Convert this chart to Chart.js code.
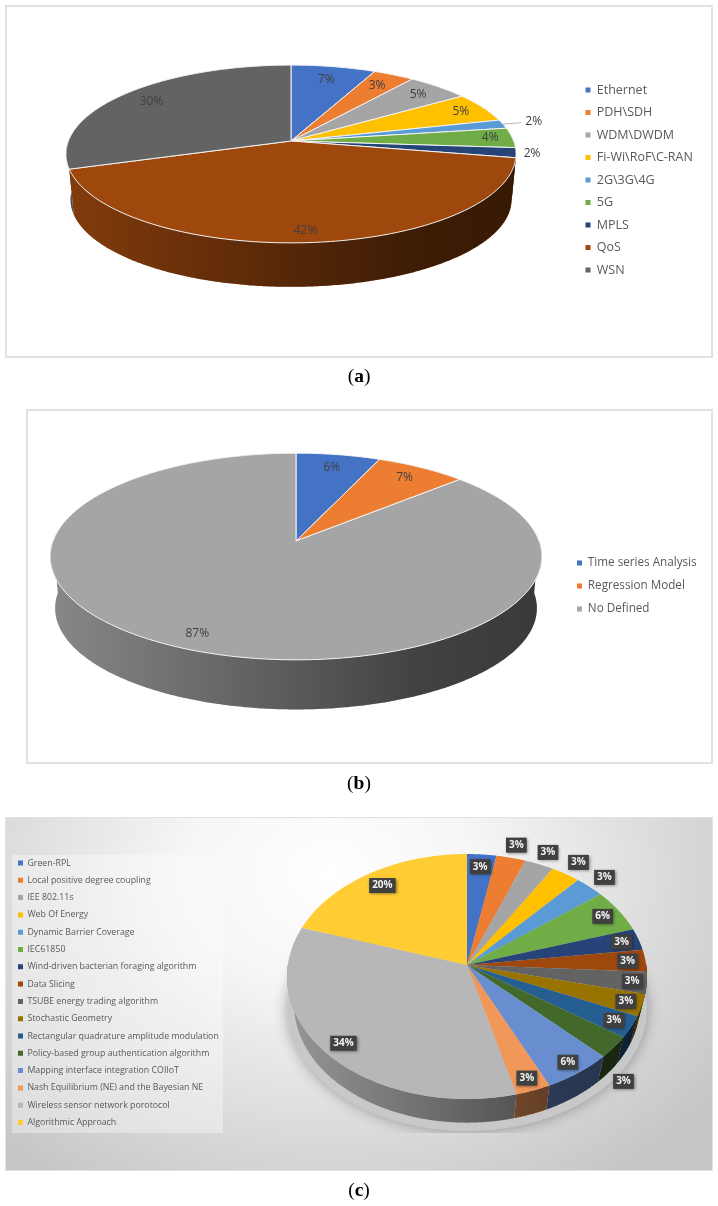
<!DOCTYPE html>
<html>
<head>
<meta charset="utf-8">
<title>Pie charts</title>
<script src="https://cdn.jsdelivr.net/npm/chart.js@4"></script>
<style>
  html, body { margin: 0; padding: 0; background: #fff; }
  body { position: relative; width: 718px; height: 1206px; overflow: hidden; }
  .frame { position: absolute; box-sizing: border-box; border: 2px solid #e2e2e2; background: #fff; }
  #frameA { left: 5px; top: 5px; width: 708px; height: 353px; }
  #frameB { left: 26px; top: 409px; width: 687px; height: 355px; }
  #frameC { left: 5px; top: 817px; width: 708px; height: 354px; border-width: 1px;
    background: radial-gradient(ellipse 68% 105% at 46% 16%, #fff 0%, #f6f6f6 30%, #c6c6c6 100%); }
  #legendBox { position: absolute; left: 12px; top: 855px; width: 211px; height: 278px; background: rgba(255,255,255,.36); }
  canvas { position: absolute; left: 0; top: 0; }
  .caption { position: absolute; left: 0; width: 718px; text-align: center; font: 19.5px "Liberation Serif", serif; color: #000; }
</style>
</head>
<body>
<div class="frame" id="frameA"></div>
<div class="frame" id="frameB"></div>
<div class="frame" id="frameC"></div>
<div id="legendBox"></div>
<canvas id="chartA" width="718" height="1206"></canvas>
<canvas id="chartB" width="718" height="1206"></canvas>
<canvas id="chartC" width="718" height="1206"></canvas>
<div class="caption" style="top:365px">(<b>a</b>)</div>
<div class="caption" style="top:772px">(<b>b</b>)</div>
<div class="caption" style="top:1179px">(<b>c</b>)</div>

<script>
const categoriesA = ["Ethernet", "PDH\\SDH", "WDM\\DWDM", "Fi-Wi\\RoF\\C-RAN", "2G\\3G\\4G", "5G", "MPLS", "QoS", "WSN"];
const valuesA = [7, 3.4, 5.2, 5.4, 1.6, 3.6, 1.8, 42, 30];

const categoriesB = ["Time series Analysis", "Regression Model", "No Defined"];
const valuesB = [6.4, 6.9, 86.7];

const categoriesC = [
  "Green-RPL", "Local positive degree coupling", "IEE 802.11s", "Web Of Energy",
  "Dynamic Barrier Coverage", "IEC61850", "Wind-driven bacterian foraging algorithm",
  "Data Slicing", "TSUBE energy trading algorithm", "Stochastic Geometry",
  "Rectangular quadrature amplitude modulation", "Policy-based group authentication algorithm",
  "Mapping interface integration COIIoT", "Nash Equilibrium (NE) and the Bayesian NE",
  "Wireless sensor network porotocol", "Algorithmic Approach"
];
const valuesC = [2.9, 2.9, 2.9, 2.9, 2.9, 5.7, 2.9, 2.9, 2.9, 2.9, 2.9, 2.9, 5.7, 2.9, 34.3, 20];

const officeColors = ["#4472c4", "#ed7d31", "#a5a5a5", "#ffc000", "#5b9bd5", "#70ad47", "#264478", "#9e480e",
  "#636363", "#997300", "#255e91", "#43682b", "#698ed0", "#f1975a", "#b7b7b7", "#ffcd33"];

// how far out each percent label sits, 1 = on the rim
const labelRadiusA = [0.81, 0.82, 0.85, 0.88, 1.15, 0.9, 1.07, 0.9, 0.83];
const labelRadiusB = [0.83, 0.85, 0.88];
const labelRadiusC = [0.88, 1.13, 1.13, 1.14, 1.13, 0.89, 0.9, 0.9, 0.92, 0.91, 0.9, 1.06, 0.91, 0.91, 0.89, 0.86];

// the tilted disc: k is the perspective, the apex sits above the middle of the ellipse
const lookA = { cx: 291, apexY: 141, b: 222.6, a: 87, k: 0.146, drop: 46, lowerScale: 0.98, edge: 1,
  labelRadius: labelRadiusA, leaders: [4], legendX: 585.5, legendY: 90, legendGap: 10, legendSize: 12.5 };
const lookB = { cx: 296, apexY: 541, b: 243, a: 101, k: 0.15, drop: 52, lowerScale: 0.98, edge: 1,
  labelRadius: labelRadiusB, leaders: [], legendX: 577, legendY: 563, legendGap: 11.3, legendSize: 11.7 };
const lookC = { cx: 467, apexY: 965, b: 179.2, a: 121.4, k: 0.094, drop: 29, lowerScale: 0.96, edge: 0,
  labelRadius: labelRadiusC, labelDrop: { 11: 29 }, leaders: [], boxed: true, shadow: true,
  legendX: 18, legendY: 863, legendGap: 8.5, legendSize: 8.8 };

function rimPoint(look, angle, r, lower) {
  const w = 1 - look.k * Math.sin(angle) * r;
  const scale = lower ? look.lowerScale : 1;
  return {
    x: look.cx + look.b * scale * Math.cos(angle) * r / w,
    y: look.apexY + (lower ? look.drop : 0) + look.a * scale * Math.sin(angle) * r / w
  };
}

function traceRim(ctx, look, from, to, lower) {
  const steps = Math.max(2, Math.ceil(Math.abs(to - from) / 0.01));
  for (let i = 0; i <= steps; i++) {
    const p = rimPoint(look, from + (to - from) * i / steps, 1, lower);
    ctx.lineTo(p.x, p.y);
  }
}

function drawWall(ctx, look, arc) {
  // only the front half of the side can be seen
  const from = Math.max(arc.startAngle, 0);
  const to = Math.min(arc.endAngle, Math.PI);
  if (to <= from) return;
  const shade = ctx.createLinearGradient(look.cx - look.b, 0, look.cx + look.b, 0);
  shade.addColorStop(0, "rgba(0,0,0,.18)");
  shade.addColorStop(0.75, "rgba(0,0,0,.6)");
  shade.addColorStop(1, "rgba(0,0,0,.65)");
  ctx.beginPath();
  traceRim(ctx, look, from, to, false);
  traceRim(ctx, look, to, from, true);
  ctx.closePath();
  ctx.fillStyle = arc.options.backgroundColor;
  ctx.fill();
  ctx.fillStyle = shade;
  ctx.fill();
}

function drawFace(ctx, look, arc) {
  ctx.beginPath();
  ctx.moveTo(look.cx, look.apexY);
  traceRim(ctx, look, arc.startAngle, arc.endAngle, false);
  ctx.closePath();
  ctx.fillStyle = arc.options.backgroundColor;
  ctx.fill();
  if (look.edge) {
    ctx.lineWidth = look.edge;
    ctx.strokeStyle = "#f2f2f2";
    ctx.stroke();
  }
}

function drawShadow(ctx, look) {
  ctx.save();
  ctx.beginPath();
  ctx.rect(6, 818, 706, 315);
  ctx.clip();
  ctx.shadowColor = "rgba(0,0,0,.32)";
  ctx.shadowBlur = 14;
  ctx.fillStyle = "#c8c8c8";
  ctx.beginPath();
  traceRim(ctx, { ...look, lowerScale: 1, drop: look.drop + 3 }, 0, Math.PI * 2, true);
  ctx.closePath();
  ctx.fill();
  ctx.restore();
}

function drawLabel(ctx, look, arc, i, text) {
  const mid = (arc.startAngle + arc.endAngle) / 2;
  const p = rimPoint(look, mid, look.labelRadius[i], false);
  const y = p.y + ((look.labelDrop && look.labelDrop[i]) || 0);
  if (look.leaders.includes(i)) {
    const from = rimPoint(look, mid, 1, false);
    const to = rimPoint(look, mid, look.labelRadius[i] - 0.06, false);
    ctx.beginPath();
    ctx.moveTo(from.x, from.y);
    ctx.lineTo(to.x, to.y);
    ctx.strokeStyle = "#a6a6a6";
    ctx.lineWidth = 0.8;
    ctx.stroke();
  }
  ctx.textAlign = "center";
  ctx.textBaseline = "middle";
  if (look.boxed) {
    ctx.font = "bold 10px 'Open Sans'";
    const w = ctx.measureText(text).width + 6;
    ctx.save();
    ctx.shadowColor = "rgba(0,0,0,.45)";
    ctx.shadowBlur = 3;
    ctx.shadowOffsetX = 1;
    ctx.shadowOffsetY = 1;
    ctx.fillStyle = "#404040";
    ctx.fillRect(p.x - w / 2, y - 7.5, w, 15);
    ctx.restore();
    ctx.fillStyle = "#f2f2f2";
  } else {
    ctx.font = "12px 'Open Sans'";
    ctx.fillStyle = "#404040";
  }
  ctx.fillText(text, p.x, y);
}

// slices nearest the viewer have to be painted last
function frontLast(arcs) {
  const away = (arc) => Math.abs((arc.startAngle + arc.endAngle) / 2 - Math.PI / 2);
  return [...arcs].sort((p, q) => away(q) - away(p));
}

function tiltedPie(look) {
  return {
    id: "tiltedPie",
    // the legend goes where the reference has it, not where the layout puts it
    afterLayout(chart) {
      const legend = chart.legend;
      const pad = legend.options.labels.padding;
      legend.left = look.legendX - pad;
      legend.right = legend.left + legend.width;
      legend.top = look.legendY - pad - look.legendSize / 2;
      legend.bottom = legend.top + legend.height;
    },
    // arcs keep the angles Chart.js worked out, only the drawing is tilted
    beforeDatasetsDraw(chart) {
      const ctx = chart.ctx;
      const arcs = chart.getDatasetMeta(0).data;
      const values = chart.data.datasets[0].data;
      ctx.save();
      if (look.shadow) drawShadow(ctx, look);
      frontLast(arcs).forEach((arc) => drawWall(ctx, look, arc));
      arcs.forEach((arc) => drawFace(ctx, look, arc));
      arcs.forEach((arc, i) => drawLabel(ctx, look, arc, i, Math.round(values[i]) + "%"));
      ctx.restore();
      return false;
    }
  };
}

function makePie(id, labels, values, look) {
  return new Chart(document.getElementById(id), {
    type: "pie",
    data: {
      labels: labels,
      datasets: [{ data: values, backgroundColor: officeColors.slice(0, values.length), borderWidth: 0 }]
    },
    options: {
      responsive: false,
      animation: false,
      events: [],
      plugins: {
        tooltip: { enabled: false },
        legend: {
          position: "right",
          align: "start",
          labels: {
            usePointStyle: true,
            pointStyle: "rect",
            boxWidth: 5,
            boxHeight: 5,
            padding: look.legendGap,
            color: "#595959",
            font: { family: "'Open Sans'", size: look.legendSize }
          }
        }
      }
    },
    plugins: [tiltedPie(look)]
  });
}

makePie("chartA", categoriesA, valuesA, lookA);
makePie("chartB", categoriesB, valuesB, lookB);
makePie("chartC", categoriesC, valuesC, lookC);
</script>
</body>
</html>
